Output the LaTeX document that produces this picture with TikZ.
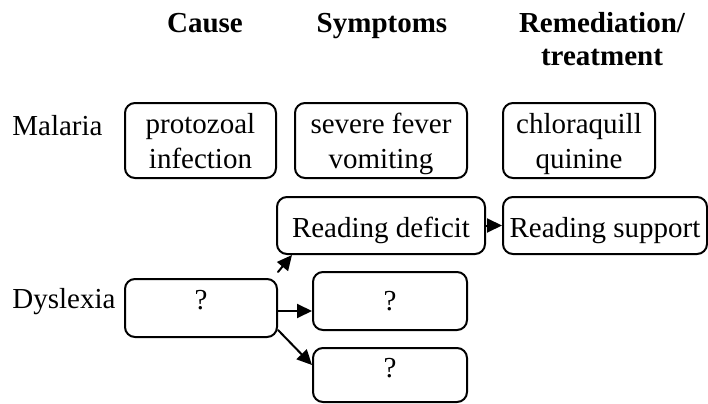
\documentclass[tikz,border=0pt]{standalone}
\usepackage{fontspec}
\setmainfont{Liberation Serif}
\usetikzlibrary{arrows.meta}
\begin{document}
\begin{tikzpicture}[line cap=round,line join=round,x=0.5pt,y=0.5pt,
  font=\fontsize{14.5}{17.5}\selectfont,
  head/.style={font=\fontsize{14.5}{16.5}\selectfont\bfseries,align=center},
  rowlabel/.style={anchor=base west,inner sep=0pt},
  box/.style={draw,line width=1pt,rounded corners=5pt,inner sep=0pt,align=center,text depth=0pt},
  qbox/.style={box,minimum width=77pt,minimum height=29pt,text depth=8pt},
  rbox/.style={box,minimum height=28.5pt,text height=15pt,text depth=3pt},
  arr/.style={-{Triangle[length=7.5pt,width=7pt]},line width=1pt}]
\useasboundingbox (0,0) rectangle (708,403);
\node[head,anchor=base] (cause) at (205,371) {Cause};
\node[head,anchor=base] (sympt) at (382,371) {Symptoms};
\node[head] (remed) at (602,364) {Remediation/\\treatment};
\node[rowlabel] (malaria) at (12,268) {Malaria};
\node[rowlabel] (dyslexia) at (12,95) {Dyslexia};
\node[box,minimum width=75.5pt,minimum height=37.5pt] (proto) at (200.5,262.5) {protozoal\\infection};
\node[box,minimum width=86pt,minimum height=37.5pt] (fever) at (381,262.5) {severe fever\\vomiting};
\node[box,minimum width=76pt,minimum height=37.5pt] (chloro) at (579,262.5) {chloraquill\\quinine};
\node[rbox,minimum width=104pt] (deficit) at (381,177.5) {Reading deficit};
\node[rbox,minimum width=102pt] (support) at (605,177.5) {Reading support};
\node[qbox,minimum width=76pt] (cq) at (201,95) {?};
\node[qbox,text depth=0pt] (qmid) at (390,102) {?};
\node[qbox,minimum height=27pt,text depth=7pt] (qlow) at (390,28) {?};
\draw[arr] ([yshift=3pt]cq.north east) -- ([xshift=8pt]deficit.south west);
\draw[arr] ([yshift=-1.5pt]cq.east) -- ([yshift=-5pt]qmid.west);
\draw[arr] ([yshift=4pt]cq.south east) -- ([yshift=-9pt]qlow.north west);
\draw[arr] (deficit.east) -- (support.west);
\end{tikzpicture}
\end{document}
